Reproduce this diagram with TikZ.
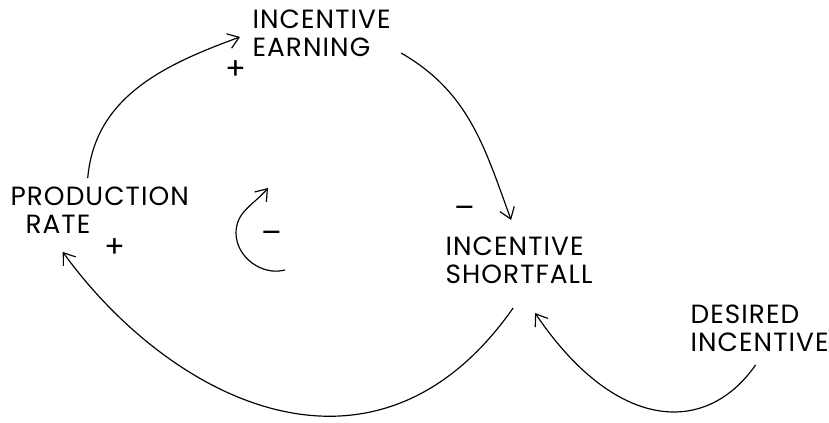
\documentclass[tikz,border=0pt]{standalone}
\usepackage{fontspec}
\setmainfont{Poppins}[LetterSpace=4]
\usetikzlibrary{calc, arrows.meta}

\begin{document}
\begin{tikzpicture}[
    x=0.03cm, y=0.03cm,
    line width=1pt,
    font=\fontsize{22.5}{24}\selectfont,
    var/.style={inner sep=0pt, align=left, anchor=west},
    sign/.style={inner sep=0pt, font=\fontsize{26}{26}\selectfont},
    link/.style={-{Straight Barb[length=3.2mm, width=4.6mm]}}
]
    \useasboundingbox (0,0) rectangle (829,423);

    % --- 1. Variables ---
    \node[var] (earn) at (252,390) {INCENTIVE\\EARNING};
    \node[var] (prod) at (10,213) {PRODUCTION\\\hspace*{0.45cm}RATE};
    \node[var] (short) at (445,163) {INCENTIVE\\SHORTFALL};
    \node[var] (desired) at (690,95) {DESIRED\\INCENTIVE};

    % --- 2. Polarity signs ---
    \node[sign] (plusearn) at (236,353) {+};
    \node[sign] (plusprod) at (115,175) {+};
    \node[sign] (minusshort) at (465,211) {--};
    \node[sign] (minusloop) at (272,186) {--};

    % --- 3. Links ---
    \draw[link] ($(prod.north)+(-12,8)$) to[out=85, in=200]
        ($(earn.west)+(-12,-4)$);
    \draw[link] ($(earn.south east)+(10,4)$) to[out=-30, in=110]
        ($(short.north)+(-8,16)$);
    \draw[link] ($(short.south)+(-6,-24)$) to[out=-125, in=-54, out looseness=1.35, in looseness=1.05]
        ($(prod.south)+(-37,-18)$);
    \draw[link] ($(desired.south)+(-4,-13)$) to[out=-125, in=-56, out looseness=1, in looseness=1.6]
        ($(short.south)+(16,-29)$);

    % --- 4. Loop symbol ---
    \draw[link] ($(minusloop)+(13,-33)$) to[out=195, in=-90] ($(minusloop)+(-36,4)$)
        to[out=90, in=230] ($(minusloop)+(-4,49)$);

\end{tikzpicture}
\end{document}
